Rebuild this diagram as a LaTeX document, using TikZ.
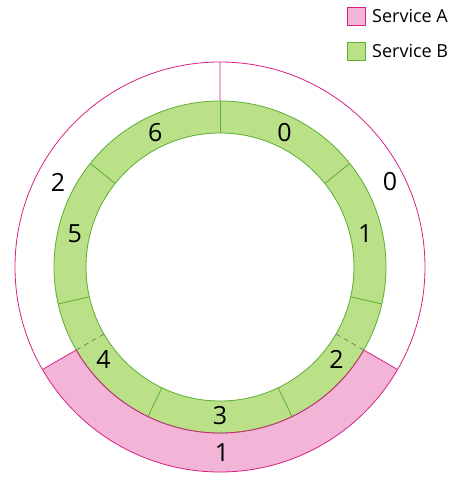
\documentclass[tikz,border=0pt]{standalone}
\usepackage{fontspec}
\setmainfont{Open Sans}
\usetikzlibrary{calc}
\definecolor{svcPink}{RGB}{242,181,216}
\definecolor{svcMagenta}{RGB}{214,32,132}
\definecolor{svcGreen}{RGB}{186,224,136}
\definecolor{svcGreenLine}{RGB}{92,174,52}
\definecolor{tickGrey}{RGB}{105,105,105}

\begin{document}
\begin{tikzpicture}[x=1pt,y=1pt,
    num/.style={font=\fontsize{25}{25}\selectfont,inner sep=0pt},
    keybox/.style={minimum size=18pt,inner sep=0pt,line width=0.8pt},
    keytxt/.style={font=\fontsize{18}{18}\selectfont,anchor=west,inner sep=0pt},
    ringA/.style={svcMagenta,line width=0.8pt},
    ringB/.style={svcGreenLine,line width=0.8pt}]
  \useasboundingbox (-220,-225) rectangle (240,267);

  % outer ring, service A
  \fill[svcPink] (-30:166) arc (-30:-150:166) -- (-150:205) arc (-150:-30:205) -- cycle;
  \draw[ringA] (0,0) circle (205);
  \draw[ringA] (-30:166) -- (-30:205) (-150:166) -- (-150:205) (90:166) -- (90:205);

  % inner ring, service B
  \fill[svcGreen,even odd rule] (0,0) circle (166) (0,0) circle (134);
  \draw[ringB] (0,0) circle (166) (0,0) circle (134);
  \foreach \k in {0,...,6}
    \draw[ringB] ({90-\k*360/7}:134) -- ({90-\k*360/7}:166);
  \draw[ringA] (-30:166) arc (-30:-150:166);
  \draw[tickGrey,line width=0.6pt,dash pattern=on 5pt off 4pt] (-30:134) -- (-30:166) (-150:134) -- (-150:166);

  % slot numbers
  \foreach \k in {0,...,6}
    \node[num] (b\k) at ({90-(\k+0.5)*360/7}:149) {\k};
  \node[num] (a0) at (170,85) {0};
  \node[num] (a1) at (2,-186) {1};
  \node[num] (a2) at (-162,85) {2};

  % legend
  \node[keybox,draw=svcMagenta,fill=svcPink] (keyA) at (136.5,251) {};
  \node[keybox,draw=svcGreenLine,fill=svcGreen] (keyB) at (136.5,216) {};
  \node[keytxt] (txtA) at (152,251) {Service A};
  \node[keytxt] (txtB) at (152,216) {Service B};
\end{tikzpicture}
\end{document}
